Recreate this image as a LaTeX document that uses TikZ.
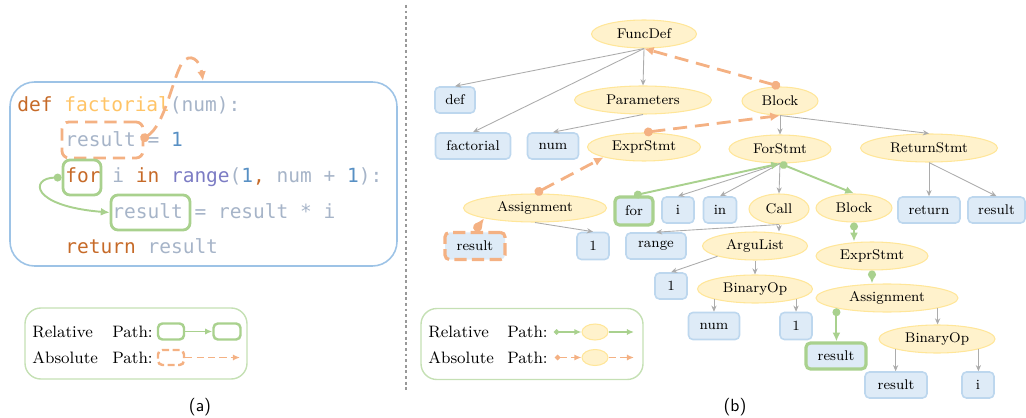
\documentclass[tikz,border=0pt]{standalone}
\usepackage{fontspec}
\newfontfamily\codefont{DejaVu Sans Mono}
\usetikzlibrary{arrows.meta}
\usetikzlibrary{shapes.geometric}

% colours of the code listing
\definecolor{kwc}{RGB}{198,106,40}
\definecolor{fnc}{RGB}{255,196,102}
\definecolor{idc}{RGB}{166,180,200}
\definecolor{numc}{RGB}{88,144,196}
\definecolor{rngc}{RGB}{124,124,196}
% colours of the tree and the paths
\definecolor{relc}{RGB}{169,209,142}
\definecolor{absc}{RGB}{244,177,131}
\definecolor{astfill}{RGB}{255,242,204}
\definecolor{astline}{RGB}{255,230,153}
\definecolor{leaffill}{RGB}{222,235,247}
\definecolor{leafline}{RGB}{189,215,238}
\definecolor{codeline}{RGB}{157,195,230}
\definecolor{legline}{RGB}{197,224,180}
\definecolor{edgec}{RGB}{172,172,172}

\newcommand{\ckw}[1]{\textcolor{kwc}{#1}}
\newcommand{\cfn}[1]{\textcolor{fnc}{#1}}
\newcommand{\cid}[1]{\textcolor{idc}{#1}}
\newcommand{\cnum}[1]{\textcolor{numc}{#1}}
\newcommand{\crng}[1]{\textcolor{rngc}{#1}}

\newdimen\pxu \pxu=0.02cm

\tikzset{
	code/.style={font=\codefont\fontsize{11.1}{13}\selectfont, inner sep=0pt, anchor=base west},
	ast/.style={ellipse, draw=astline, fill=astfill, line width=0.6pt, inner sep=0pt,
		minimum height=28\pxu, font=\fontsize{8}{9}\selectfont},
	leaf/.style={rectangle, rounded corners=2.5pt, draw=leafline, fill=leaffill, line width=0.9pt,
		inner sep=0pt, minimum height=26\pxu, font=\fontsize{8}{9}\selectfont},
	relleaf/.style={leaf, draw=relc, line width=1.8pt},
	absleaf/.style={leaf, draw=absc, line width=1.8pt, dash pattern=on 7pt off 3pt},
	treeedge/.style={draw=edgec, line width=0.5pt, -{Stealth[length=3.5pt,width=3pt]}},
	relpath/.style={draw=relc, line width=1.1pt, {Circle[length=4.5pt]}-{Latex[length=5pt,width=4.5pt]}},
	abspath/.style={draw=absc, line width=1.6pt, dash pattern=on 8pt off 4.5pt,
		{Circle[length=5pt]}-{Latex[length=5.5pt,width=5pt]}},
	relbox/.style={draw=relc, line width=1.6pt, rounded corners=4pt, inner sep=0pt},
	absbox/.style={draw=absc, line width=1.6pt, rounded corners=4pt, inner sep=0pt, dash pattern=on 7pt off 4pt},
	legbox/.style={draw=legline, line width=0.8pt, rounded corners=9pt, inner sep=0pt,
		minimum width=222\pxu, minimum height=71\pxu},
	legtext/.style={font=\fontsize{9.4}{11}\selectfont, inner sep=0pt, anchor=base west},
	caption/.style={font=\sffamily\fontsize{10}{12}\selectfont},
}

\begin{document}
\begin{tikzpicture}[x=0.02cm, y=-0.02cm]
	\useasboundingbox (0,0) rectangle (1026,418);

	% (a) the source code
	\node[draw=codeline, line width=0.9pt, rounded corners=14pt, inner sep=0pt,
		minimum width=387\pxu, minimum height=184\pxu] (codebox) at (203.5,174) {};
	\node[code] (line1) at (17,112) {\ckw{def} \cfn{factorial}\cid{(num):}};
	\node[code] (line2) at (65,147) {\cid{result = }\cnum{1}};
	\node[code] (line3) at (65,183) {\ckw{for} \cid{i} \ckw{in} \crng{range}\cid{(}\cnum{1}\ckw{,} \cid{num + }\cnum{1}\cid{):}};
	\node[code] (line4) at (112,219) {\cid{result = result * i}};
	\node[code] (line5) at (65,254) {\ckw{return} \cid{result}};

	\node[absbox, minimum width=81\pxu, minimum height=36\pxu] (cres) at (102.5,140) {};
	\node[relbox, minimum width=38\pxu, minimum height=35\pxu] (cfor) at (82,177.5) {};
	\node[relbox, minimum width=79\pxu, minimum height=35\pxu] (cres2) at (150.5,212.5) {};

	\coordinate (abstip) at (203,81);
	\draw[relpath] (cfor.west) .. controls (30,178) and (30,206) .. (cres2.west);
	\draw[abspath] ([xshift=-2pt]cres.east) .. controls (165,125) and (172,80) .. (182,63)
		.. controls (190,52) and (200,60) .. (abstip);

	% legend of (a)
	\node[legbox] (lega) at (136,343.5) {};
	\node[legtext] (relA) at (32,337) {Relative};
	\node[legtext] (relApath) at (112,337) {Path:};
	\node[legtext] (absA) at (32,363) {Absolute};
	\node[legtext] (absApath) at (112,363) {Path:};
	\node[relbox, line width=1.4pt, rounded corners=2.5pt, minimum width=26\pxu, minimum height=16\pxu] (lgr1) at (171,331.5) {};
	\node[relbox, line width=1.4pt, rounded corners=2.5pt, minimum width=27\pxu, minimum height=16\pxu] (lgr2) at (227,331.5) {};
	\node[absbox, line width=1.4pt, rounded corners=2.5pt, dash pattern=on 4pt off 2pt,
		minimum width=26\pxu, minimum height=15\pxu] (lga1) at (171,357.5) {};
	\coordinate (lga2) at (240,357.5);
	\draw[draw=relc, line width=1pt, -{Latex[length=4pt,width=3.5pt]}] (lgr1) -- (lgr2);
	\draw[draw=absc, line width=1pt, dash pattern=on 4pt off 2.5pt, -{Latex[length=4pt,width=3.5pt]}] (lga1) -- (lga2);

	\node[caption] (capa) at (200,407) {(a)};

	% separator
	\coordinate (divtop) at (406,5);
	\coordinate (divbot) at (406,392);
	\draw[draw=gray!80, line width=0.9pt, dash pattern=on 1.6pt off 1.6pt] (divtop) -- (divbot);

	% (b) the syntax tree
	\node[ast, minimum width=105\pxu] (fdef) at (644,34) {FuncDef};
	\node[ast, minimum width=137\pxu] (params) at (643,100) {Parameters};
	\node[ast, minimum width=76\pxu] (blk) at (780,101) {Block};
	\node[ast, minimum width=113\pxu] (expr) at (644,147) {ExprStmt};
	\node[ast, minimum width=102\pxu] (forst) at (780,149) {ForStmt};
	\node[ast, minimum width=137\pxu] (retst) at (929,148) {ReturnStmt};
	\node[ast, minimum width=143\pxu] (asgn) at (535,208) {Assignment};
	\node[ast, minimum width=60\pxu, minimum height=30\pxu] (call) at (779,209) {Call};
	\node[ast, minimum width=76\pxu] (blkb) at (854,208) {Block};
	\node[ast, minimum width=105\pxu] (args) at (755,246) {ArguList};
	\node[ast, minimum width=112\pxu] (exprb) at (872,256) {ExprStmt};
	\node[ast, minimum width=115\pxu] (binl) at (755,289) {BinaryOp};
	\node[ast, minimum width=142\pxu] (asgnb) at (887,298) {Assignment};
	\node[ast, minimum width=116\pxu] (binr) at (937,339) {BinaryOp};

	\node[leaf, minimum width=40\pxu] (kdef) at (455,100) {def};
	\node[leaf, minimum width=75\pxu] (fname) at (473,146) {factorial};
	\node[leaf, minimum width=51\pxu] (pnum) at (553,146) {num};
	\node[relleaf, minimum width=38\pxu, minimum height=28\pxu] (kfor) at (634,211) {for};
	\node[leaf, minimum width=32\pxu] (vi) at (678,210) {i};
	\node[leaf, minimum width=33\pxu] (kin) at (720,210) {in};
	\node[leaf, minimum width=62\pxu] (kret) at (929,210) {return};
	\node[leaf, minimum width=57\pxu] (rres) at (996.5,210) {result};
	\node[absleaf, minimum width=60\pxu, minimum height=27\pxu] (lres) at (475,246) {result};
	\node[leaf, minimum width=32\pxu, minimum height=27\pxu] (one1) at (593,246) {1};
	\node[leaf, minimum width=60\pxu] (frange) at (656,246) {range};
	\node[leaf, minimum width=32\pxu] (one2) at (671,286) {1};
	\node[leaf, minimum width=51\pxu, minimum height=27\pxu] (bnum) at (714,326) {num};
	\node[leaf, minimum width=32\pxu, minimum height=27\pxu] (one3) at (796,326) {1};
	\node[relleaf, minimum width=60\pxu] (gres) at (836,356) {result};
	\node[leaf, minimum width=62\pxu] (bres) at (896,385) {result};
	\node[leaf, minimum width=32\pxu] (bi) at (978,385) {i};

	% plain tree edges
	\draw[treeedge] (fdef.south) -- (kdef.north);
	\draw[treeedge] (fdef.south) -- (fname.north);
	\draw[treeedge] (fdef.south) -- (params.north);
	\draw[treeedge] (params.south) -- (pnum.north);
	\draw[treeedge] (blk.south) -- (forst.north);
	\draw[treeedge] (blk.south) -- (retst.north);
	\draw[treeedge] (forst.south) -- (vi.north);
	\draw[treeedge] (forst.south) -- (kin.north);
	\draw[treeedge] (forst.south) -- (call.north);
	\draw[treeedge] (retst.south) -- (kret.north);
	\draw[treeedge] (retst.south) -- (rres.north);
	\draw[treeedge] (asgn.south) -- (one1.north);
	\draw[treeedge] (call.south) -- (frange.north);
	\draw[treeedge] (call.south) -- (call.south |- args.north);
	\draw[treeedge] (args.south west) -- (one2.north);
	\draw[treeedge] (args.south) -- (binl.north);
	\draw[treeedge] (binl.south west) -- (binl.south west |- bnum.north);
	\draw[treeedge] (binl.south east) -- (binl.south east |- one3.north);
	\draw[treeedge] (asgnb.south east) -- (asgnb.south east |- binr.north);
	\draw[treeedge] (binr.south west) -- (binr.south west |- bres.north);
	\draw[treeedge] (binr.south east) -- (binr.south east |- bi.north);

	% relative path
	\draw[relpath] (kfor.north) -- (forst.south);
	\draw[relpath] (forst.south) -- (blkb.north);
	\draw[relpath] (blkb.south) -- (blkb.south |- exprb.north);
	\draw[relpath] (exprb.south) -- (exprb.south |- asgnb.north);
	\draw[relpath] (asgnb.south west) -- (asgnb.south west |- gres.north);

	% absolute path
	\draw[abspath] (lres.north) -- (asgn.south west);
	\draw[abspath] (asgn.north) -- (expr.south west);
	\draw[abspath] (expr.north) -- (blk.south);
	\draw[abspath] (blk.north) -- (fdef.south);

	% legend of (b)
	\node[legbox] (legb) at (532,344) {};
	\node[legtext] (relB) at (428,337) {Relative};
	\node[legtext] (relBpath) at (507,337) {Path:};
	\node[legtext] (absB) at (428,363) {Absolute};
	\node[legtext] (absBpath) at (507,363) {Path:};
	\node[ast, minimum width=26\pxu, minimum height=16\pxu] (lbr) at (595,332) {};
	\node[ast, minimum width=26\pxu, minimum height=16\pxu] (lba) at (595,357.5) {};
	\coordinate (lbr0) at (554,332);
	\coordinate (lbr1) at (634,332);
	\coordinate (lba0) at (555,357.5);
	\coordinate (lba1) at (634,357.5);
	\draw[draw=relc, line width=0.8pt, {Circle[length=3pt]}-{Latex[length=4pt,width=3.5pt]}] (lbr0) -- (lbr);
	\draw[draw=relc, line width=0.8pt, -{Latex[length=4pt,width=3.5pt]}] (lbr) -- (lbr1);
	\draw[draw=absc, line width=0.8pt, dash pattern=on 4pt off 2.5pt, {Circle[length=3pt]}-{Latex[length=4pt,width=3.5pt]}] (lba0) -- (lba);
	\draw[draw=absc, line width=0.8pt, dash pattern=on 4pt off 2.5pt, -{Latex[length=4pt,width=3.5pt]}] (lba) -- (lba1);

	\node[caption] (capb) at (735,407) {(b)};
\end{tikzpicture}
\end{document}
